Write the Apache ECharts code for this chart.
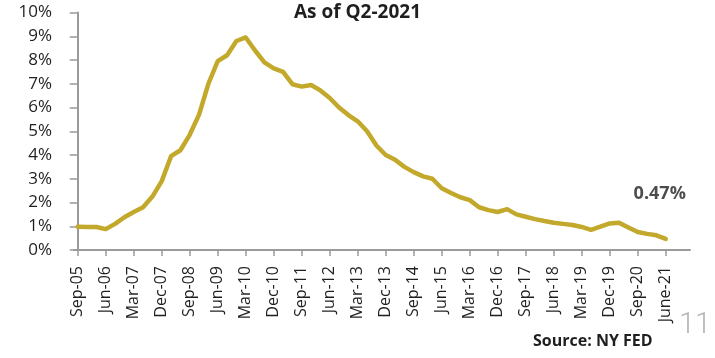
<!DOCTYPE html>
<html>
<head>
<meta charset="utf-8">
<script src="https://cdn.jsdelivr.net/npm/echarts@6/dist/echarts.min.js"></script>
<style>
  html, body { margin: 0; padding: 0; background: #fff; }
  #chart { width: 715px; height: 358px; }
</style>
</head>
<body>
<div id="chart"></div>
<script>
// Quarterly rate, Q3-2005 through Q2-2021 (percent)
const rates = [
  0.98, 0.97, 0.97, 0.88, 1.10, 1.38, 1.60, 1.80, 2.25, 2.90,
  3.95, 4.20, 4.85, 5.70, 7.00, 7.95, 8.20, 8.80, 8.95, 8.40,
  7.90, 7.65, 7.50, 6.98, 6.88, 6.95, 6.72, 6.40, 6.00, 5.68,
  5.42, 5.00, 4.40, 4.00, 3.80, 3.50, 3.28, 3.10, 3.00, 2.60,
  2.40, 2.22, 2.10, 1.80, 1.68, 1.60, 1.72, 1.50, 1.40, 1.30,
  1.22, 1.15, 1.10, 1.05, 0.97, 0.85, 0.98, 1.12, 1.15, 0.95,
  0.76, 0.68, 0.62, 0.47
];

// Labels shown on every third quarter
const tickLabels = [
  'Sep-05', 'Jun-06', 'Mar-07', 'Dec-07', 'Sep-08', 'Jun-09', 'Mar-10', 'Dec-10',
  'Sep-11', 'Jun-12', 'Mar-13', 'Dec-13', 'Sep-14', 'Jun-15', 'Mar-16', 'Dec-16',
  'Sep-17', 'Jun-18', 'Mar-19', 'Dec-19', 'Sep-20', 'June-21'
];
const tickStep = 3;
const tickPositions = tickLabels.map((_, k) => k * tickStep);

const yTicks = [0, 1, 2, 3, 4, 5, 6, 7, 8, 9, 10];

const lineData = rates.map((v, i) => [i, v]);
const lastIndex = rates.length - 1;
const lastPoint = [[lastIndex, rates[lastIndex]]];

const axisGray = '#9a9a9a';
const textDark = '#1f1f1f';
const chart = echarts.init(document.getElementById('chart'), null, { renderer: 'canvas' });

chart.setOption({
  animation: false,
  backgroundColor: '#ffffff',
  title: {
    text: 'As of Q2-2021',
    left: 'center',
    top: -2,
    textStyle: { fontFamily: 'Open Sans', fontWeight: 'bold', fontSize: 19, color: textDark }
  },
  grid: { left: 74, right: 25, top: 12.5, bottom: 108, containLabel: false },
  xAxis: {
    type: 'value',
    min: -0.4,
    max: 65.6,
    splitLine: { show: false },
    axisLine: { show: true, lineStyle: { color: axisGray, width: 2 } },
    axisTick: {
      show: true,
      customValues: tickPositions,
      length: 6,
      lineStyle: { color: axisGray, width: 1.5 }
    },
    axisLabel: {
      customValues: tickPositions,
      rotate: 90,
      margin: 16,
      formatter: v => tickLabels[Math.round(v / tickStep)],
      fontFamily: 'Open Sans',
      fontSize: 16,
      color: textDark
    }
  },
  yAxis: {
    type: 'value',
    min: yTicks[0],
    max: yTicks[yTicks.length - 1],
    interval: 1,
    splitLine: { show: false },
    axisLine: { show: true, lineStyle: { color: axisGray, width: 2 } },
    axisTick: { show: true, length: 8, lineStyle: { color: axisGray, width: 1.5 } },
    axisLabel: {
      margin: 22,
      formatter: '{value}%',
      fontFamily: 'Open Sans',
      fontSize: 17,
      color: textDark
    }
  },
  series: [
    {
      type: 'line',
      data: lineData,
      symbol: 'none',
      lineStyle: { color: '#C3A92B', width: 4.5, cap: 'round', join: 'round' },
      itemStyle: { color: '#C3A92B' }
    },
    {
      // value label for the latest quarter
      type: 'scatter',
      data: lastPoint,
      symbolSize: 0,
      label: {
        show: true,
        position: 'top',
        distance: 0,
        offset: [-6, -36],
        formatter: p => p.value[1] + '%',
        fontFamily: 'Open Sans',
        fontWeight: 'bold',
        fontSize: 18,
        color: textDark
      }
    }
  ],
  graphic: [
    {
      type: 'text',
      left: 533,
      top: 333,
      style: {
        text: 'Source: NY FED',
        font: 'bold 16px "Open Sans"',
        fill: textDark
      }
    },
    {
      type: 'text',
      left: 679,
      top: 311,
      style: {
        text: '11',
        font: '300 29px Roboto',
        fill: '#b5b5b5'
      }
    }
  ]
});
</script>
</body>
</html>
